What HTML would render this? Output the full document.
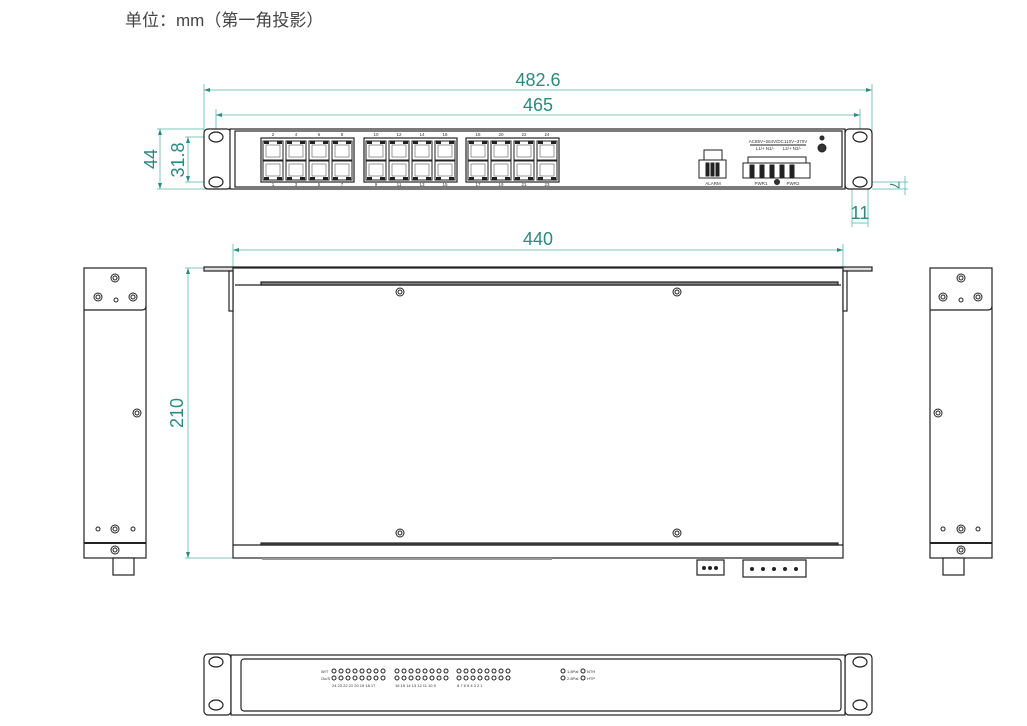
<!DOCTYPE html>
<html><head><meta charset="utf-8"><style>
body{margin:0;background:#fff;width:1027px;height:726px;overflow:hidden}
svg{display:block}
.t{font-family:"Liberation Sans","Noto Sans CJK SC",sans-serif}
</style></head><body>
<svg width="1027" height="726" viewBox="0 0 1027 726" xmlns="http://www.w3.org/2000/svg">
<defs>
<g id="scr"><circle r="4" fill="#fff" stroke="#222" stroke-width="1"/><circle r="2" fill="none" stroke="#222" stroke-width="1"/></g>
<g id="port"><rect x="0" y="0" width="20" height="19" fill="#fff" stroke="#222" stroke-width="1"/><rect x="3" y="4" width="14" height="12" fill="none" stroke="#555" stroke-width=".6"/><rect x="1" y="0" width="5" height="3" fill="#222"/><rect x="14" y="0" width="5" height="3" fill="#222"/></g>
<g id="portb"><rect x="0" y="0" width="20" height="19" fill="#fff" stroke="#222" stroke-width="1"/><rect x="3" y="3" width="14" height="12" fill="none" stroke="#555" stroke-width=".6"/><rect x="1" y="16" width="5" height="3" fill="#222"/><rect x="14" y="16" width="5" height="3" fill="#222"/></g>
<g id="led"><circle r="2" fill="#fff" stroke="#222" stroke-width="1"/></g>
</defs>
<text x="125" y="26" class="t" font-size="17" fill="#444">单位：mm（第一角投影）</text>

<!-- dimensions front -->
<g stroke="#7cc4bc" stroke-width="1" fill="none">
<line x1="204" y1="90" x2="872" y2="90"/><line x1="204" y1="84" x2="204" y2="135"/><line x1="872" y1="84" x2="872" y2="135"/>
<line x1="216" y1="115" x2="860" y2="115"/><line x1="216" y1="109" x2="216" y2="137"/><line x1="860" y1="109" x2="860" y2="137"/>
<line x1="157" y1="129" x2="204" y2="129"/><line x1="157" y1="189" x2="220" y2="189"/><line x1="160" y1="129" x2="160" y2="189"/>
<line x1="185" y1="137" x2="216" y2="137"/><line x1="185" y1="182" x2="216" y2="182"/><line x1="188" y1="137" x2="188" y2="182"/>
<line x1="860" y1="182" x2="908" y2="182"/><line x1="872" y1="189" x2="908" y2="189"/><line x1="905" y1="176" x2="905" y2="195"/>
<line x1="852" y1="186" x2="852" y2="227"/><line x1="868" y1="186" x2="868" y2="227"/><line x1="852" y1="223" x2="868" y2="223"/>
<line x1="233" y1="250" x2="843" y2="250"/><line x1="233" y1="244" x2="233" y2="275"/><line x1="843" y1="244" x2="843" y2="275"/>
<line x1="185" y1="268" x2="235" y2="268"/><line x1="185" y1="558" x2="235" y2="558"/><line x1="188" y1="268" x2="188" y2="558"/>
</g>
<g fill="#2a8a80">
<path d="M204 90l6-2v4z M872 90l-6-2v4z M216 115l6-2v4z M860 115l-6-2v4z M233 250l6-2v4z M843 250l-6-2v4z M160 129l-2 6h4z M160 189l-2-6h4z M188 137l-2 6h4z M188 182l-2-6h4z M188 268l-2 6h4z M188 558l-2-6h4z"/>
</g>
<g class="t" fill="#2a8a80" font-size="18">
<text x="538" y="86" text-anchor="middle">482.6</text>
<text x="538" y="111" text-anchor="middle">465</text>
<text x="538" y="245" text-anchor="middle">440</text>
<text transform="translate(157,159) rotate(-90)" text-anchor="middle">44</text>
<text transform="translate(184,160) rotate(-90)" text-anchor="middle">31.8</text>
<text transform="translate(183,413) rotate(-90)" text-anchor="middle">210</text>
<text x="860" y="219" text-anchor="middle">11</text>
<text transform="translate(890,185) rotate(90)" text-anchor="middle" font-size="14">7</text>
</g>

<!-- front view -->
<g stroke="#222" stroke-width="1.2" fill="#fff">
<rect x="204" y="129" width="27" height="60" rx="4"/>
<rect x="845" y="129" width="27" height="60" rx="4"/>
<rect x="230" y="129" width="615" height="60"/>
<rect x="235" y="131" width="607" height="56" fill="#fff"/>
<ellipse cx="216" cy="137" rx="7" ry="5"/><ellipse cx="216" cy="182" rx="7" ry="5"/>
<ellipse cx="860" cy="137" rx="7" ry="5"/><ellipse cx="860" cy="182" rx="7" ry="5"/>
<rect x="261" y="138" width="93" height="44"/><rect x="364" y="138" width="93" height="44"/><rect x="466" y="138" width="93" height="44"/>
</g>
<g>
<use href="#port" x="263" y="141"/><use href="#port" x="286" y="141"/><use href="#port" x="309" y="141"/><use href="#port" x="332" y="141"/>
<use href="#portb" x="263" y="161"/><use href="#portb" x="286" y="161"/><use href="#portb" x="309" y="161"/><use href="#portb" x="332" y="161"/>
<use href="#port" x="366" y="141"/><use href="#port" x="389" y="141"/><use href="#port" x="412" y="141"/><use href="#port" x="435" y="141"/>
<use href="#portb" x="366" y="161"/><use href="#portb" x="389" y="161"/><use href="#portb" x="412" y="161"/><use href="#portb" x="435" y="161"/>
<use href="#port" x="468" y="141"/><use href="#port" x="491" y="141"/><use href="#port" x="514" y="141"/><use href="#port" x="537" y="141"/>
<use href="#portb" x="468" y="161"/><use href="#portb" x="491" y="161"/><use href="#portb" x="514" y="161"/><use href="#portb" x="537" y="161"/>
</g>
<g class="t" font-size="4.5" fill="#333" text-anchor="middle">
<text x="273" y="136">2</text><text x="296" y="136">4</text><text x="319" y="136">6</text><text x="342" y="136">8</text>
<text x="376" y="136">10</text><text x="399" y="136">12</text><text x="422" y="136">14</text><text x="445" y="136">16</text>
<text x="478" y="136">18</text><text x="501" y="136">20</text><text x="524" y="136">22</text><text x="547" y="136">24</text>
<text x="273" y="186">1</text><text x="296" y="186">3</text><text x="319" y="186">5</text><text x="342" y="186">7</text>
<text x="376" y="186">9</text><text x="399" y="186">11</text><text x="422" y="186">13</text><text x="445" y="186">15</text>
<text x="478" y="186">17</text><text x="501" y="186">19</text><text x="524" y="186">21</text><text x="547" y="186">23</text>
<text x="713" y="185">ALARM</text>
<text x="778" y="143">AC85V~264V/DC110V~370V</text>
<text x="765" y="150">L1/+ N1/-</text><text x="792" y="150">L2/+ N2/-</text>
<text x="761" y="185">PWR1</text><text x="793" y="185">PWR2</text>
</g>
<g stroke="#222" stroke-width="1" fill="#fff">
<line x1="750" y1="145" x2="806" y2="145"/>
<rect x="704" y="150" width="18" height="10"/>
<rect x="699" y="160" width="27" height="18"/>
<rect x="706" y="163" width="3" height="13" fill="#222"/><rect x="711" y="163" width="3" height="13" fill="#222"/><rect x="716" y="163" width="3" height="13" fill="#222"/>
<rect x="748" y="157" width="58" height="8"/>
<rect x="743" y="163" width="67" height="15"/>
<rect x="750" y="165" width="4" height="12" fill="#222"/><rect x="760" y="165" width="4" height="12" fill="#222"/><rect x="770" y="165" width="4" height="12" fill="#222"/><rect x="780" y="165" width="4" height="12" fill="#222"/><rect x="790" y="165" width="4" height="12" fill="#222"/>
<circle cx="822" cy="148" r="4" fill="#333"/><circle cx="822" cy="138" r="2" fill="#333"/><circle cx="777" cy="182" r="2.5" fill="#333"/>
</g>

<!-- top view -->
<g stroke="#222" stroke-width="1.2" fill="#fff">
<rect x="204" y="267" width="668" height="4" fill="#ddd"/>
<rect x="233" y="268" width="610" height="290"/>
<line x1="235" y1="285" x2="841" y2="285"/>
<rect x="261" y="282" width="577" height="3" fill="#888"/>
<line x1="233" y1="545" x2="843" y2="545"/>
<rect x="261" y="543" width="577" height="2" fill="#555"/>
<rect x="229" y="271" width="4" height="40"/><rect x="843" y="271" width="4" height="40"/>
<rect x="697" y="560" width="27" height="15"/><rect x="743" y="560" width="63" height="17"/>
</g>
<g fill="#222"><circle cx="704" cy="568" r="2"/><circle cx="710" cy="568" r="2"/><circle cx="716" cy="568" r="2"/>
<circle cx="752" cy="569" r="2"/><circle cx="763" cy="569" r="2"/><circle cx="774" cy="569" r="2"/><circle cx="785" cy="569" r="2"/><circle cx="796" cy="569" r="2"/>
<rect x="262" y="558" width="290" height="2" fill="#999"/></g>
<use href="#scr" x="400" y="292"/><use href="#scr" x="677" y="292"/><use href="#scr" x="400" y="533"/><use href="#scr" x="677" y="533"/>

<!-- side views -->
<g stroke="#222" stroke-width="1.2" fill="#fff">
<rect x="84" y="268" width="62" height="290"/><path d="M84 310H142q4 0 4-4" fill="none"/><line x1="84" y1="543" x2="146" y2="543" stroke-width="2"/>
<rect x="113" y="558" width="21" height="17"/>
<rect x="930" y="268" width="62" height="290"/><path d="M930 310H988q4 0 4-4" fill="none"/><line x1="930" y1="543" x2="992" y2="543" stroke-width="2"/>
<rect x="943" y="558" width="21" height="17"/>
</g>
<g>
<use href="#scr" x="115" y="278"/><use href="#scr" x="98" y="297"/><use href="#scr" x="133" y="297"/><circle cx="116" cy="300" r="2" fill="none" stroke="#222"/>
<use href="#scr" x="137" y="413"/><circle cx="98" cy="529" r="2" fill="none" stroke="#222"/><use href="#scr" x="115" y="529"/><circle cx="133" cy="529" r="2" fill="none" stroke="#222"/><use href="#scr" x="115" y="550"/>
<use href="#scr" x="961" y="278"/><use href="#scr" x="943" y="297"/><use href="#scr" x="978" y="297"/><circle cx="961" cy="300" r="2" fill="none" stroke="#222"/>
<use href="#scr" x="938" y="413"/><circle cx="943" cy="529" r="2" fill="none" stroke="#222"/><use href="#scr" x="961" y="529"/><circle cx="978" cy="529" r="2" fill="none" stroke="#222"/><use href="#scr" x="961" y="550"/>
</g>

<!-- rear/bottom view -->
<g stroke="#222" stroke-width="1.2" fill="#fff">
<rect x="204" y="654" width="27" height="61" rx="4"/>
<rect x="845" y="654" width="27" height="61" rx="4"/>
<rect x="231" y="655" width="614" height="60"/>
<rect x="241" y="659" width="600" height="52" rx="3"/>
<ellipse cx="216" cy="662" rx="7" ry="5"/><ellipse cx="216" cy="705" rx="7" ry="5"/>
<ellipse cx="860" cy="662" rx="7" ry="5"/><ellipse cx="860" cy="705" rx="7" ry="5"/>
</g>
<g>
<use href="#led" x="334" y="671"/><use href="#led" x="341" y="671"/><use href="#led" x="348" y="671"/><use href="#led" x="355" y="671"/><use href="#led" x="362" y="671"/><use href="#led" x="369" y="671"/><use href="#led" x="376" y="671"/><use href="#led" x="383" y="671"/>
<use href="#led" x="397" y="671"/><use href="#led" x="404" y="671"/><use href="#led" x="411" y="671"/><use href="#led" x="418" y="671"/><use href="#led" x="425" y="671"/><use href="#led" x="432" y="671"/><use href="#led" x="439" y="671"/><use href="#led" x="446" y="671"/>
<use href="#led" x="459" y="671"/><use href="#led" x="466" y="671"/><use href="#led" x="473" y="671"/><use href="#led" x="480" y="671"/><use href="#led" x="487" y="671"/><use href="#led" x="494" y="671"/><use href="#led" x="501" y="671"/><use href="#led" x="508" y="671"/>
<use href="#led" x="334" y="678"/><use href="#led" x="341" y="678"/><use href="#led" x="348" y="678"/><use href="#led" x="355" y="678"/><use href="#led" x="362" y="678"/><use href="#led" x="369" y="678"/><use href="#led" x="376" y="678"/><use href="#led" x="383" y="678"/>
<use href="#led" x="397" y="678"/><use href="#led" x="404" y="678"/><use href="#led" x="411" y="678"/><use href="#led" x="418" y="678"/><use href="#led" x="425" y="678"/><use href="#led" x="432" y="678"/><use href="#led" x="439" y="678"/><use href="#led" x="446" y="678"/>
<use href="#led" x="459" y="678"/><use href="#led" x="466" y="678"/><use href="#led" x="473" y="678"/><use href="#led" x="480" y="678"/><use href="#led" x="487" y="678"/><use href="#led" x="494" y="678"/><use href="#led" x="501" y="678"/><use href="#led" x="508" y="678"/>
<use href="#led" x="563" y="671"/><use href="#led" x="583" y="671"/><use href="#led" x="563" y="678"/><use href="#led" x="583" y="678"/>
</g>
<g class="t" font-size="4" fill="#333">
<text x="321" y="673">W/T</text><text x="321" y="680">Ou/S</text>
<text x="567" y="673">1.8Pal</text><text x="587" y="673">NTH</text><text x="567" y="680">2.8Pal</text><text x="587" y="680">HTP</text>
<text x="332" y="687">24 23 22 21 20 19 18 17</text><text x="395" y="687">16 15 14 13 12 11 10 9</text><text x="457" y="687">8  7  6  5  4  3  2  1</text>
</g>
</svg>
</body></html>
